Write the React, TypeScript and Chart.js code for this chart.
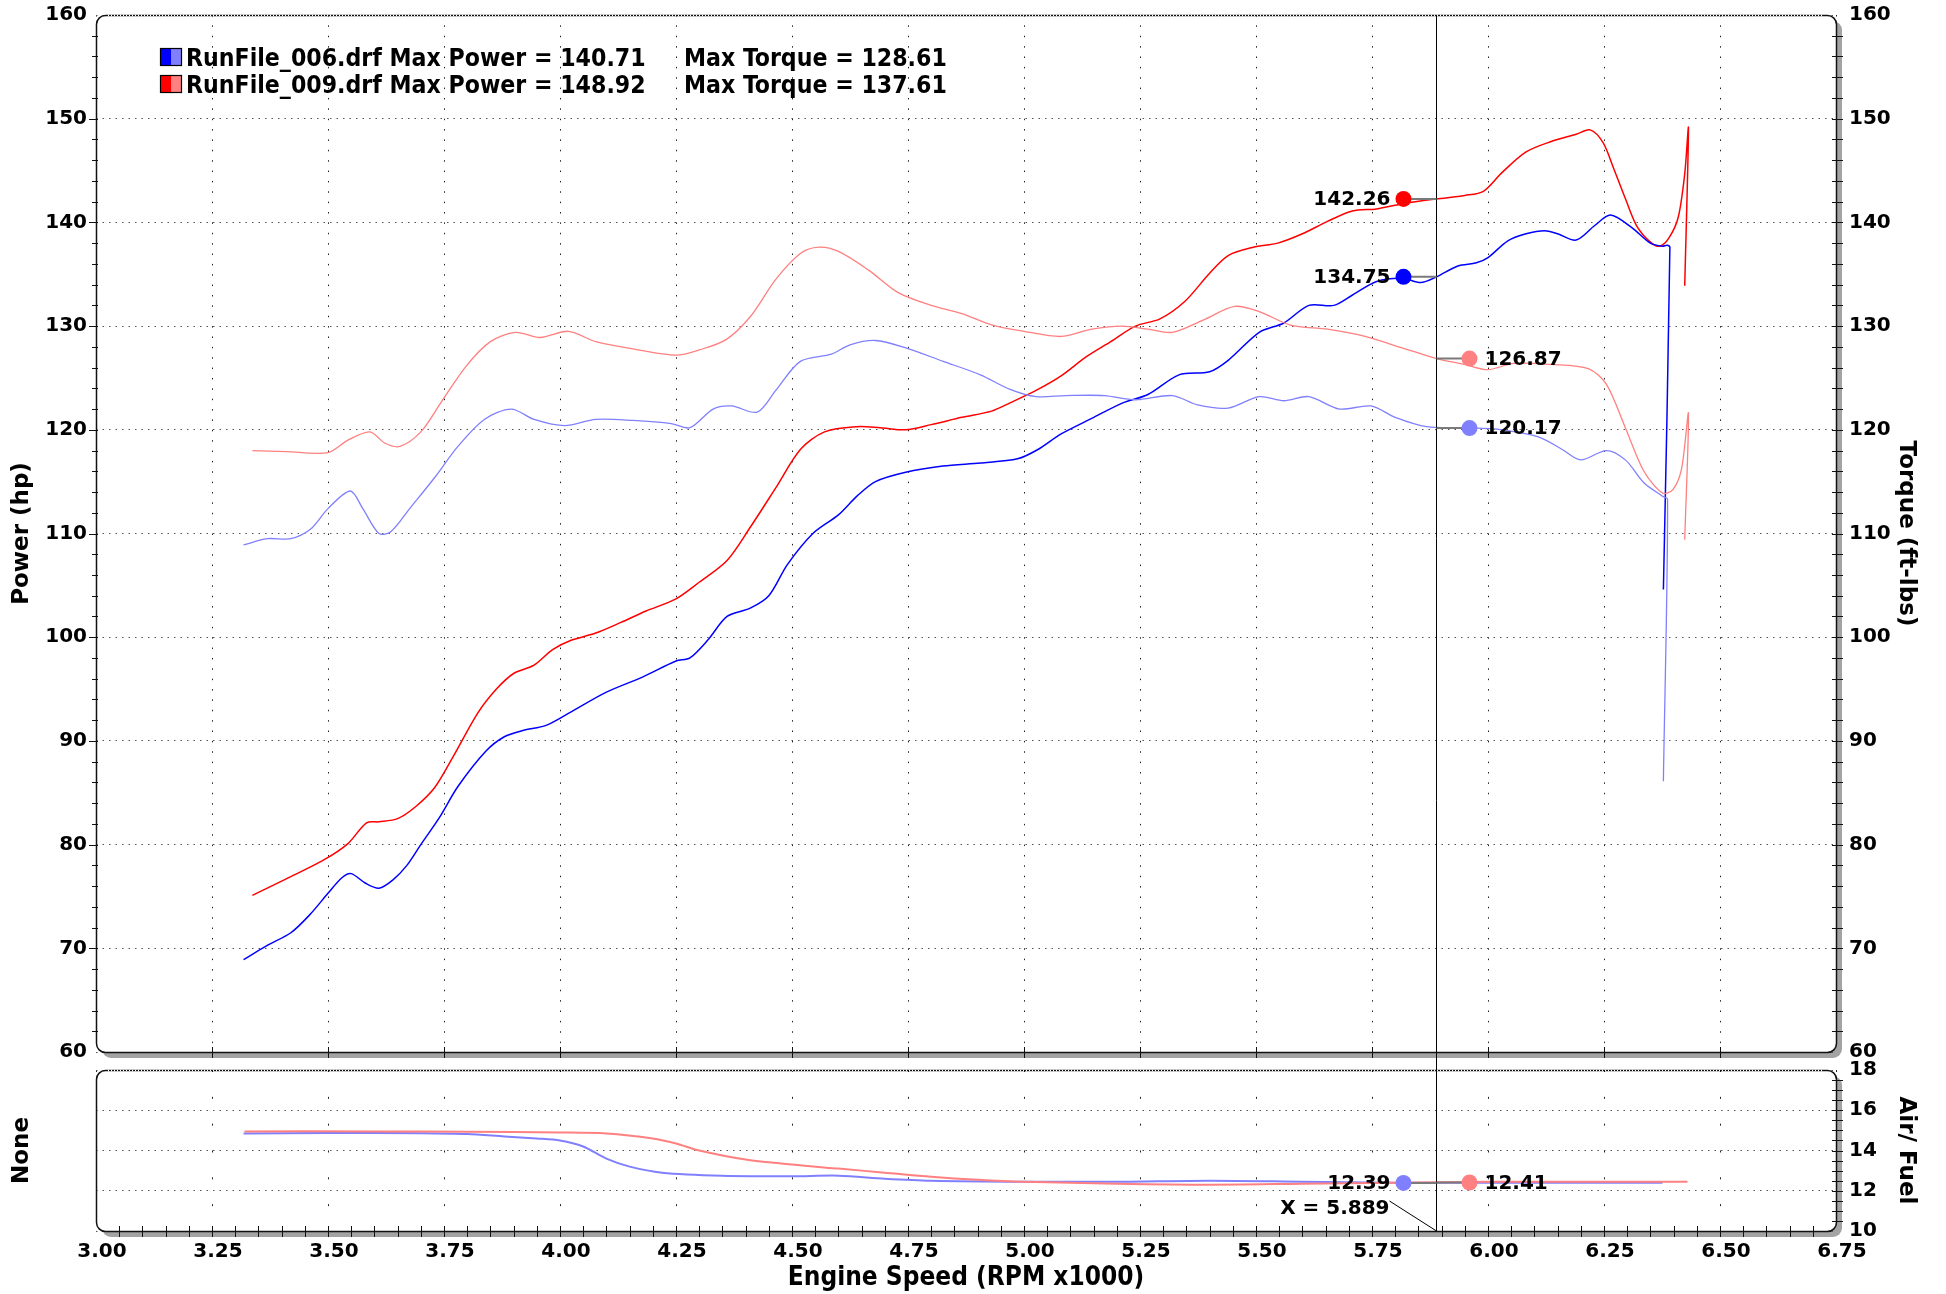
import React, { useEffect, useRef } from "react";
import { Chart, registerables } from "chart.js";

Chart.register(...registerables);

// ---------------- data ----------------
const rpmTicksMin = 3.0;
const rpmTicksMax = 6.75;

const power006Rpm = [3.318, 3.37, 3.42, 3.46, 3.5, 3.53, 3.55, 3.58, 3.61, 3.64, 3.67, 3.7, 3.74, 3.78, 3.84, 3.88, 3.92, 3.97, 4.02, 4.1, 4.18, 4.25, 4.28, 4.32, 4.36, 4.41, 4.45, 4.49, 4.545, 4.6, 4.64, 4.68, 4.745, 4.825, 4.906, 4.986, 5.03, 5.08, 5.146, 5.213, 5.267, 5.334, 5.4, 5.44, 5.507, 5.56, 5.614, 5.668, 5.708, 5.76, 5.817, 5.855, 5.889, 5.935, 5.975, 6.0, 6.042, 6.082, 6.122, 6.15, 6.19, 6.23, 6.264, 6.31, 6.35, 6.376, 6.386, 6.392, 6.378];
const power006Hp = [68.9, 70.3, 71.5, 73.2, 75.3, 76.8, 77.2, 76.3, 75.8, 76.6, 78.0, 80.0, 82.6, 85.6, 89.0, 90.4, 91.0, 91.5, 92.7, 94.7, 96.2, 97.7, 98.0, 99.8, 102.0, 102.8, 104.0, 107.0, 110.0, 111.8, 113.6, 115.0, 115.9, 116.5, 116.8, 117.2, 118.1, 119.6, 121.1, 122.6, 123.4, 125.3, 125.6, 126.7, 129.4, 130.3, 132.0, 132.0, 133.0, 134.3, 134.6, 134.2, 134.75, 135.8, 136.1, 136.6, 138.2, 138.9, 139.2, 138.9, 138.3, 139.7, 140.71, 139.5, 138.0, 137.7, 137.8, 137.6, 104.6];

const power009Rpm = [3.337, 3.41, 3.49, 3.543, 3.583, 3.61, 3.65, 3.69, 3.73, 3.77, 3.823, 3.863, 3.9, 3.944, 3.984, 4.024, 4.077, 4.13, 4.184, 4.25, 4.3, 4.36, 4.41, 4.465, 4.518, 4.57, 4.64, 4.69, 4.745, 4.8, 4.866, 4.93, 4.97, 5.026, 5.08, 5.133, 5.187, 5.24, 5.293, 5.347, 5.4, 5.44, 5.494, 5.547, 5.6, 5.654, 5.708, 5.76, 5.817, 5.889, 5.95, 5.99, 6.03, 6.082, 6.136, 6.19, 6.22, 6.248, 6.27, 6.296, 6.32, 6.35, 6.37, 6.39, 6.41, 6.424, 6.432, 6.424];
const power009Hp = [75.1, 76.7, 78.5, 80.1, 82.1, 82.2, 82.5, 83.7, 85.5, 88.5, 92.7, 95.0, 96.5, 97.3, 98.8, 99.7, 100.4, 101.4, 102.5, 103.7, 105.3, 107.4, 110.6, 114.4, 118.1, 119.8, 120.3, 120.2, 120.0, 120.5, 121.2, 121.8, 122.6, 123.8, 125.2, 127.0, 128.5, 130.0, 130.7, 132.4, 135.1, 136.8, 137.6, 138.0, 138.9, 140.1, 141.1, 141.3, 141.8, 142.26, 142.6, 143.0, 144.8, 146.8, 147.8, 148.5, 148.92, 147.7, 145.3, 142.3, 139.7, 138.1, 137.7, 138.5, 140.5, 144.7, 149.1, 133.9];

const torque006Rpm = [3.318, 3.369, 3.42, 3.462, 3.5, 3.548, 3.575, 3.61, 3.636, 3.676, 3.73, 3.78, 3.837, 3.895, 3.944, 4.01, 4.077, 4.157, 4.24, 4.28, 4.33, 4.37, 4.425, 4.465, 4.518, 4.585, 4.625, 4.68, 4.745, 4.826, 4.906, 4.97, 5.026, 5.09, 5.173, 5.24, 5.32, 5.374, 5.44, 5.507, 5.56, 5.614, 5.68, 5.748, 5.8, 5.868, 5.96, 6.03, 6.11, 6.16, 6.2, 6.255, 6.296, 6.336, 6.376, 6.387, 6.378];
const torque006Lbft = [108.9, 109.5, 109.5, 110.4, 112.4, 114.1, 112.4, 110.0, 110.2, 112.4, 115.4, 118.4, 121.0, 122.0, 121.0, 120.4, 121.0, 120.9, 120.6, 120.2, 122.0, 122.3, 121.7, 123.8, 126.6, 127.3, 128.2, 128.61, 127.9, 126.6, 125.3, 123.9, 123.2, 123.3, 123.3, 122.9, 123.3, 122.4, 122.1, 123.2, 122.8, 123.2, 122.0, 122.3, 121.2, 120.3, 120.2, 120.0, 119.3, 118.1, 117.1, 118.0, 117.1, 114.9, 113.6, 113.3, 86.1];

const torque009Rpm = [3.337, 3.41, 3.5, 3.543, 3.59, 3.623, 3.655, 3.7, 3.743, 3.797, 3.85, 3.904, 3.957, 4.018, 4.077, 4.157, 4.25, 4.3, 4.358, 4.41, 4.465, 4.518, 4.558, 4.6, 4.665, 4.73, 4.8, 4.866, 4.932, 5.0, 5.08, 5.146, 5.21, 5.267, 5.32, 5.387, 5.454, 5.507, 5.574, 5.654, 5.735, 5.815, 5.889, 5.95, 6.0, 6.055, 6.136, 6.216, 6.255, 6.296, 6.336, 6.376, 6.398, 6.417, 6.432, 6.424];
const torque009Lbft = [118.0, 117.9, 117.8, 119.0, 119.8, 118.7, 118.4, 119.8, 122.6, 126.1, 128.5, 129.4, 128.9, 129.5, 128.5, 127.8, 127.2, 127.7, 128.7, 130.9, 134.5, 137.0, 137.61, 137.2, 135.4, 133.2, 132.0, 131.2, 130.1, 129.5, 129.0, 129.7, 130.0, 129.7, 129.4, 130.6, 131.9, 131.4, 130.1, 129.7, 129.0, 127.9, 126.87, 126.3, 125.8, 126.4, 126.3, 125.9, 124.4, 120.2, 116.0, 113.9, 114.2, 116.2, 121.6, 109.4];

const afr006Rpm = [3.318, 3.5, 3.7, 3.8, 3.88, 3.95, 4.0, 4.05, 4.1, 4.15, 4.22, 4.35, 4.5, 4.6, 4.7, 4.8, 5.0, 5.2, 5.4, 5.6, 5.8, 6.0, 6.2, 6.376];
const afr006Ratio = [14.85, 14.87, 14.86, 14.82, 14.7, 14.6, 14.5, 14.2, 13.6, 13.2, 12.9, 12.75, 12.72, 12.75, 12.6, 12.5, 12.45, 12.45, 12.5, 12.45, 12.4, 12.4, 12.4, 12.4];

const afr009Rpm = [3.32, 3.6, 3.8, 4.0, 4.1, 4.2, 4.25, 4.3, 4.4, 4.5, 4.6, 4.7, 4.8, 4.9, 5.0, 5.2, 5.4, 5.6, 5.8, 6.0, 6.2, 6.43];
const afr009Ratio = [14.95, 14.95, 14.93, 14.9, 14.85, 14.6, 14.35, 14.0, 13.55, 13.3, 13.1, 12.9, 12.7, 12.55, 12.45, 12.35, 12.3, 12.35, 12.4, 12.45, 12.45, 12.45];

const runNames = ["RunFile_006.drf", "RunFile_009.drf"];
const maxPower = [140.71, 148.92];
const maxTorque = [128.61, 137.61];

const cursorRpm = 5.889;
const cursorPower = [142.26, 134.75]; // 009, 006
const cursorTorque = [126.87, 120.17]; // 009, 006
const cursorAfr = [12.39, 12.41]; // 006, 009

// ---------------- styling ----------------
const FONT = '"DejaVu Sans", Verdana, sans-serif';
const FONT_COND = '"DejaVu Sans Condensed", "DejaVu Sans", sans-serif';
const BLUE = "#0000FF";
const LBLUE = "#8080FF";
const RED = "#FF0000";
const LRED = "#FF8080";

const W = 1946;
const MAIN_H = 1062;
const AFR_TOP = 1040;
const AFR_H = 1294 - AFR_TOP;
const LEFT_W = 96;
const RIGHT_W = 110;

function pts(xs: number[], ys: number[]) {
  return xs.map((x, i) => ({ x, y: ys[i] }));
}

function roundRectPath(ctx: CanvasRenderingContext2D, x: number, y: number, w: number, h: number, r: number) {
  ctx.beginPath();
  ctx.moveTo(x + r, y);
  ctx.lineTo(x + w - r, y);
  ctx.arcTo(x + w, y, x + w, y + r, r);
  ctx.lineTo(x + w, y + h - r);
  ctx.arcTo(x + w, y + h, x + w - r, y + h, r);
  ctx.lineTo(x + r, y + h);
  ctx.arcTo(x, y + h, x, y + h - r, r);
  ctx.lineTo(x, y + r);
  ctx.arcTo(x, y, x + r, y, r);
  ctx.closePath();
}

function drawBack(chart: any) {
  const { ctx, chartArea: a } = chart;
  ctx.save();
  ctx.fillStyle = "#a3a3a3";
  roundRectPath(ctx, a.left + 6, a.top + 6, a.right - a.left, a.bottom - a.top, 9);
  ctx.fill();
  ctx.fillStyle = "#ffffff";
  roundRectPath(ctx, a.left, a.top, a.right - a.left, a.bottom - a.top, 9);
  ctx.fill();
  ctx.restore();
}

function drawBorder(chart: any) {
  const { ctx, chartArea: a } = chart;
  ctx.save();
  ctx.strokeStyle = "#111";
  ctx.lineWidth = 1.5;
  roundRectPath(ctx, a.left + 0.5, a.top + 0.5, a.right - a.left, a.bottom - a.top, 9);
  ctx.stroke();
  // top edge appears as a fine dotted grey line in the original
  ctx.strokeStyle = "#ffffff";
  ctx.lineWidth = 1.5;
  ctx.setLineDash([1, 2]);
  ctx.beginPath();
  ctx.moveTo(a.left + 12, a.top + 0.5);
  ctx.lineTo(a.right - 12, a.top + 0.5);
  ctx.stroke();
  ctx.restore();
}

function seg(ctx: CanvasRenderingContext2D, x1: number, y1: number, x2: number, y2: number) {
  ctx.beginPath();
  ctx.moveTo(x1, y1);
  ctx.lineTo(x2, y2);
  ctx.stroke();
}

function drawMarker(ctx: CanvasRenderingContext2D, cx: number, py: number, side: number, color: string, value: number) {
  const dx = cx + side * 33;
  ctx.save();
  ctx.strokeStyle = "#7a7a7a";
  ctx.lineWidth = 2;
  seg(ctx, dx, py, cx, py);
  ctx.fillStyle = color;
  ctx.beginPath();
  ctx.arc(dx, py, 8, 0, Math.PI * 2);
  ctx.fill();
  ctx.fillStyle = "#000";
  ctx.font = `bold 20px ${FONT}`;
  ctx.textBaseline = "middle";
  if (side < 0) {
    ctx.textAlign = "right";
    ctx.fillText(value.toFixed(2), dx - 13, py + 1);
  } else {
    ctx.textAlign = "left";
    ctx.fillText(value.toFixed(2), dx + 15, py + 1);
  }
  ctx.restore();
}

const mainDecor = {
  id: "mainDecor",
  beforeDraw(chart: any) {
    drawBack(chart);
  },
  afterDatasetsDraw(chart: any) {
    const { ctx, chartArea: a, scales } = chart;
    const xs = scales.x;
    const ys = scales.y;
    drawBorder(chart);
    ctx.save();
    ctx.strokeStyle = "#111";
    ctx.lineWidth = 1;
    for (let v = 62; v < 160; v += 2) {
      const py = Math.round(ys.getPixelForValue(v)) + 0.5;
      const major = v % 10 === 0;
      seg(ctx, a.left - (major ? 7 : 4), py, a.left + 2, py);
      seg(ctx, a.right - 4, py, a.right + 7, py);
    }
    for (let k = 1; k < 15; k++) {
      const px = Math.round(xs.getPixelForValue(rpmTicksMin + k * 0.25)) + 0.5;
      seg(ctx, px, a.bottom - 5, px, a.bottom + 6);
    }
    // cursor
    const cx = Math.round(xs.getPixelForValue(cursorRpm)) + 0.5;
    ctx.strokeStyle = "#000";
    seg(ctx, cx, a.top, cx, chart.height);
    ctx.restore();

    drawMarker(ctx, cx, ys.getPixelForValue(cursorPower[0]), -1, RED, cursorPower[0]);
    drawMarker(ctx, cx, ys.getPixelForValue(cursorPower[1]), -1, BLUE, cursorPower[1]);
    drawMarker(ctx, cx, ys.getPixelForValue(cursorTorque[0]), 1, LRED, cursorTorque[0]);
    drawMarker(ctx, cx, ys.getPixelForValue(cursorTorque[1]), 1, LBLUE, cursorTorque[1]);

    // legend
    ctx.save();
    const swatches = [
      [BLUE, LBLUE],
      [RED, LRED],
    ];
    for (let i = 0; i < 2; i++) {
      const sy = 48 + i * 27;
      ctx.fillStyle = swatches[i][0];
      ctx.fillRect(160, sy, 11, 18);
      ctx.fillStyle = swatches[i][1];
      ctx.fillRect(171, sy, 11, 18);
      ctx.strokeStyle = "#000";
      ctx.lineWidth = 1.2;
      ctx.strokeRect(160.5, sy + 0.5, 21, 17);
      ctx.fillStyle = "#000";
      ctx.font = `bold 24.6px ${FONT_COND}`;
      ctx.textBaseline = "middle";
      ctx.textAlign = "left";
      ctx.fillText(`${runNames[i]} Max Power = ${maxPower[i].toFixed(2)}`, 186, sy + 12);
      ctx.fillText(`Max Torque = ${maxTorque[i].toFixed(2)}`, 684, sy + 12);
    }
    ctx.restore();
  },
};

const afrDecor = {
  id: "afrDecor",
  beforeDraw(chart: any) {
    drawBack(chart);
  },
  afterDatasetsDraw(chart: any) {
    const { ctx, chartArea: a, scales } = chart;
    const xs = scales.x;
    const ys = scales.y2;
    drawBorder(chart);
    ctx.save();
    ctx.strokeStyle = "#111";
    ctx.lineWidth = 1;
    for (let k = 1; k < 75; k++) {
      const px = Math.round(xs.getPixelForValue(rpmTicksMin + k * 0.05)) + 0.5;
      seg(ctx, px, a.bottom - 5, px, a.bottom + 6);
    }
    for (let k = 1; k < 16; k++) {
      const py = Math.round(ys.getPixelForValue(10 + k * 0.5)) + 0.5;
      seg(ctx, a.right - 4, py, a.right + 7, py);
    }
    const cx = Math.round(xs.getPixelForValue(cursorRpm)) + 0.5;
    ctx.strokeStyle = "#000";
    seg(ctx, cx, 0, cx, a.bottom);
    // X label leader
    seg(ctx, cx - 47, a.bottom - 30, cx, a.bottom);
    ctx.fillStyle = "#000";
    ctx.font = `bold 20px ${FONT}`;
    ctx.textAlign = "right";
    ctx.textBaseline = "middle";
    ctx.fillText(`X = ${cursorRpm.toFixed(3)}`, cx - 47, a.bottom - 22);
    ctx.restore();

    drawMarker(ctx, cx, ys.getPixelForValue(cursorAfr[0]), -1, LBLUE, cursorAfr[0]);
    drawMarker(ctx, cx, ys.getPixelForValue(cursorAfr[1]), 1, LRED, cursorAfr[1]);
  },
};

function lineDs(data: any, color: string, width: number, yAxisID: string) {
  return {
    data,
    borderColor: color,
    backgroundColor: color,
    borderWidth: width,
    pointRadius: 0,
    showLine: true,
    tension: 0.3,
    fill: false,
    yAxisID,
  };
}

const tickFont = { family: FONT, size: 20, weight: "bold" as const };
const titleFont = { family: FONT, size: 23, weight: "bold" as const };

function fixV(width: number) {
  return (s: any) => {
    s.width = width;
    s.paddingTop = 0;
    s.paddingBottom = 0;
  };
}

export default function App() {
  const mainRef = useRef<HTMLCanvasElement>(null);
  const afrRef = useRef<HTMLCanvasElement>(null);

  useEffect(() => {
    document.body.style.margin = "0";
    document.body.style.overflow = "hidden";

    const main = new Chart(mainRef.current as HTMLCanvasElement, {
      type: "scatter",
      data: {
        datasets: [
          lineDs(pts(torque006Rpm, torque006Lbft), LBLUE, 1.3, "y"),
          lineDs(pts(torque009Rpm, torque009Lbft), LRED, 1.3, "y"),
          lineDs(pts(power006Rpm, power006Hp), BLUE, 1.5, "y"),
          lineDs(pts(power009Rpm, power009Hp), RED, 1.5, "y"),
        ] as any,
      },
      options: {
        animation: false,
        responsive: false,
        maintainAspectRatio: false,
        layout: { padding: { top: 15, bottom: 10, left: 0, right: 0 } },
        plugins: { legend: { display: false }, tooltip: { enabled: false } },
        scales: {
          x: {
            type: "linear",
            min: rpmTicksMin,
            max: rpmTicksMax,
            ticks: { stepSize: 0.25, display: false },
            grid: { color: "#222", lineWidth: 1, drawTicks: false },
            border: { display: false, dash: [1.5, 8.87] },
            afterFit: (s: any) => {
              s.height = 0;
              s.paddingLeft = 0;
              s.paddingRight = 0;
            },
          },
          y: {
            type: "linear",
            position: "left",
            min: 60,
            max: 160,
            ticks: { stepSize: 10, font: tickFont, color: "#000", padding: 9 },
            grid: { color: "#555", lineWidth: 1, drawTicks: false },
            border: { display: false, dash: [1.5, 5] },
            title: { display: true, text: "Power (hp)", font: titleFont, color: "#000", padding: { top: 8, bottom: 0 } },
            afterFit: fixV(LEFT_W),
          },
          y2: {
            type: "linear",
            position: "right",
            min: 60,
            max: 160,
            ticks: { stepSize: 10, font: tickFont, color: "#000", padding: 13 },
            grid: { drawOnChartArea: false, drawTicks: false },
            border: { display: false },
            title: { display: true, text: "Torque (ft-lbs)", font: titleFont, color: "#000", padding: { top: 26, bottom: 0 } },
            afterFit: fixV(RIGHT_W),
          },
        } as any,
      },
      plugins: [mainDecor],
    });

    const afr = new Chart(afrRef.current as HTMLCanvasElement, {
      type: "scatter",
      data: {
        datasets: [
          lineDs(pts(afr009Rpm, afr009Ratio), LRED, 2, "y2"),
          lineDs(pts(afr006Rpm, afr006Ratio), LBLUE, 2, "y2"),
        ] as any,
      },
      options: {
        animation: false,
        responsive: false,
        maintainAspectRatio: false,
        layout: { padding: { top: 1070 - AFR_TOP, bottom: 0, left: 0, right: 0 } },
        plugins: { legend: { display: false }, tooltip: { enabled: false } },
        scales: {
          x: {
            type: "linear",
            min: rpmTicksMin,
            max: rpmTicksMax,
            ticks: {
              stepSize: 0.25,
              font: tickFont,
              color: "#000",
              padding: 9,
              autoSkip: false,
              maxRotation: 0,
              labelOffset: 6,
              callback: (v: any) => Number(v).toFixed(2),
            },
            grid: { color: "#222", lineWidth: 1, drawTicks: false },
            border: { display: false, dash: [2, 24.83] },
            title: {
              display: true,
              text: "Engine Speed (RPM x1000)",
              font: { family: FONT_COND, size: 26, weight: "bold" },
              color: "#000",
              padding: { top: 0, bottom: 0 },
            },
            afterFit: (s: any) => {
              s.height = 63;
              s.paddingLeft = 0;
              s.paddingRight = 0;
            },
          },
          y: {
            type: "linear",
            position: "left",
            min: 10,
            max: 18,
            ticks: { stepSize: 2, display: false },
            grid: { color: "#555", lineWidth: 1, drawTicks: false },
            border: { display: false, dash: [1.5, 5] },
            title: { display: true, text: "None", font: titleFont, color: "#000", padding: { top: 8, bottom: 0 } },
            afterFit: fixV(LEFT_W),
          },
          y2: {
            type: "linear",
            position: "right",
            min: 10,
            max: 18,
            ticks: { stepSize: 2, font: tickFont, color: "#000", padding: 13 },
            grid: { drawOnChartArea: false, drawTicks: false },
            border: { display: false },
            title: { display: true, text: "Air/ Fuel", font: titleFont, color: "#000", padding: { top: 26, bottom: 0 } },
            afterFit: fixV(RIGHT_W),
          },
        } as any,
      },
      plugins: [afrDecor],
    });

    return () => {
      main.destroy();
      afr.destroy();
    };
  }, []);

  return (
    <div style={{ position: "absolute", left: 0, top: 0, width: W, height: 1294, background: "#fff", overflow: "hidden" }}>
      <canvas ref={mainRef} width={W} height={MAIN_H} style={{ position: "absolute", left: 0, top: 0, width: W, height: MAIN_H }} />
      <canvas ref={afrRef} width={W} height={AFR_H} style={{ position: "absolute", left: 0, top: AFR_TOP, width: W, height: AFR_H }} />
    </div>
  );
}
